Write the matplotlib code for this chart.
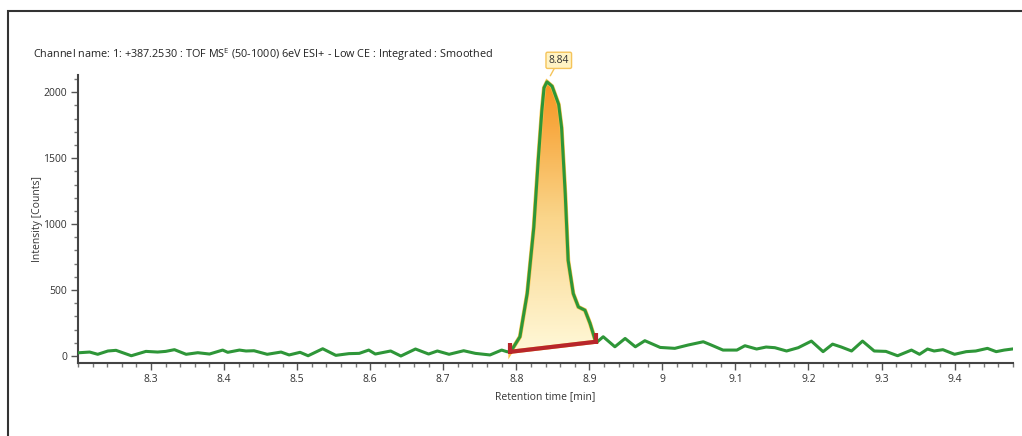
#python 3
# Chromatogram with integrated peak at 8.84 min

import numpy as np
import matplotlib.pyplot as plt
from matplotlib.patches import Polygon, Rectangle
from matplotlib.colors import LinearSegmentedColormap
from matplotlib.ticker import MultipleLocator

plt.rcParams['font.family'] = ['Open Sans', 'DejaVu Sans']

# retention time (min) and intensity (counts)
time_n = [8.202, 8.216, 8.227, 8.241, 8.252, 8.273, 8.293, 8.309, 8.320, 8.332,
          8.348, 8.364, 8.380, 8.398, 8.405, 8.421, 8.430, 8.441, 8.459, 8.478,
          8.489, 8.504, 8.515, 8.535, 8.553, 8.571, 8.585, 8.598, 8.607, 8.628,
          8.642, 8.662, 8.680, 8.692, 8.708, 8.728, 8.744, 8.764, 8.780, 8.787,
          8.792, 8.805, 8.815, 8.824, 8.830, 8.835, 8.838, 8.842, 8.849, 8.858,
          8.862, 8.867, 8.871, 8.878, 8.885, 8.894, 8.901, 8.908, 8.911, 8.919,
          8.935, 8.949, 8.963, 8.976, 8.997, 9.017, 9.035, 9.056, 9.067, 9.083,
          9.102, 9.113, 9.129, 9.142, 9.154, 9.170, 9.186, 9.204, 9.220, 9.233,
          9.245, 9.259, 9.274, 9.290, 9.306, 9.322, 9.341, 9.352, 9.363, 9.372,
          9.384, 9.400, 9.416, 9.429, 9.445, 9.457, 9.468, 9.479]
intensity = [25, 30, 13, 38, 43, 2, 35, 30, 35, 48,
             13, 25, 15, 45, 28, 45, 38, 40, 13, 30,
             8, 28, 2, 55, 5, 18, 20, 45, 15, 38,
             0, 53, 15, 38, 13, 40, 20, 8, 45, 33,
             30, 146, 475, 976, 1479, 1857, 2033, 2078, 2045, 1907,
             1731, 1228, 725, 473, 372, 347, 247, 121, 108, 146,
             70, 133, 70, 116, 65, 58, 83, 108, 83, 45,
             45, 78, 53, 68, 63, 38, 63, 113, 33, 90,
             68, 38, 113, 38, 35, 2, 45, 13, 53, 38,
             48, 13, 33, 38, 58, 33, 45, 53]

# integration baseline (start, end)
base_t = [8.792, 8.909]
base_i = [32, 108]
apex_t = 8.842
apex_i = 2078
apex_label = '8.84'

title = 'Channel name: 1: +387.2530 : TOF MS$^\\mathregular{E}$ (50-1000) 6eV ESI+ - Low CE : Integrated : Smoothed'

fig = plt.figure(figsize=(10.22, 4.36), dpi=100)
ax = fig.add_axes([78/1022, 1-363/436, (1013-78)/1022, (363-75)/436])

time_n = np.array(time_n)
intensity = np.array(intensity)

# peak area polygon: curve between integration limits, closed by baseline
m = (time_n >= base_t[0]) & (time_n <= base_t[1])
pts = list(zip(time_n[m], intensity[m])) + [(base_t[1], base_i[1]), (base_t[0], base_i[0])]
poly = Polygon(pts, closed=True, facecolor='none', edgecolor='#F6C24A', lw=3, zorder=2)
ax.add_patch(poly)

cmap = LinearSegmentedColormap.from_list('pk', ['#FFF8D8', '#FAD58A', '#F7951F'])
grad = np.linspace(0, 1, 256).reshape(-1, 1)
im = ax.imshow(grad, cmap=cmap, origin='lower', aspect='auto',
               extent=[base_t[0], base_t[1], min(base_i), apex_i], zorder=1)
im.set_clip_path(poly)

ax.plot(time_n, intensity, color='#2E9638', lw=2.2, solid_joinstyle='round', zorder=3)

# integration baseline with end markers
red = '#B8262B'
ax.plot(base_t, base_i, color=red, lw=3, solid_capstyle='butt', zorder=4)
for t, b in zip(base_t, base_i):
    ax.plot([t, t], [b - 15, b + 70], color=red, lw=3, solid_capstyle='butt', zorder=4)

ax.annotate(apex_label, xy=(apex_t, apex_i), xytext=(8.5, 15.5), textcoords='offset points',
            ha='center', va='center', fontsize=7.5, color='#333333',
            bbox=dict(boxstyle='round,pad=0.25,rounding_size=0.15', fc='#FFF3C4', ec='#F5C45A', lw=1),
            arrowprops=dict(arrowstyle='-', color='#F5C45A', lw=1, shrinkA=0, shrinkB=5),
            annotation_clip=False, zorder=5)

ax.set_xlim(8.2, 9.48)
ax.set_ylim(-53, 2130)
ax.xaxis.set_major_locator(MultipleLocator(0.1))
ax.xaxis.set_minor_locator(MultipleLocator(0.02))
ax.yaxis.set_major_locator(MultipleLocator(500))
ax.yaxis.set_minor_locator(MultipleLocator(100))
ax.set_xticks([8.3, 8.4, 8.5, 8.6, 8.7, 8.8, 8.9, 9.0, 9.1, 9.2, 9.3, 9.4])
ax.set_xticklabels(['8.3', '8.4', '8.5', '8.6', '8.7', '8.8', '8.9', '9', '9.1', '9.2', '9.3', '9.4'])
for s in ['top', 'right']:
    ax.spines[s].set_visible(False)
for s in ['left', 'bottom']:
    ax.spines[s].set_color('#444444')
    ax.spines[s].set_linewidth(1.5)
ax.tick_params(which='major', length=5, width=1, color='#555555', labelsize=7.5, labelcolor='#333333', pad=3)
ax.tick_params(which='minor', length=3, width=1, color='#777777')
ax.set_xlabel('Retention time [min]', fontsize=7.5, color='#333333', labelpad=4)
ax.set_ylabel('Intensity [Counts]', fontsize=7.5, color='#333333', labelpad=0)

fig.text(33/1022, 1-55/436, title, fontsize=7.8, color='#222222', ha='left', va='center')

# outer frame
fig.patches.append(Rectangle((8/1022, -0.1), 1.2, 1.1 - 11/436, transform=fig.transFigure,
                             fill=False, edgecolor='#333333', lw=1.5))

plt.savefig('out.png', dpi=100)
